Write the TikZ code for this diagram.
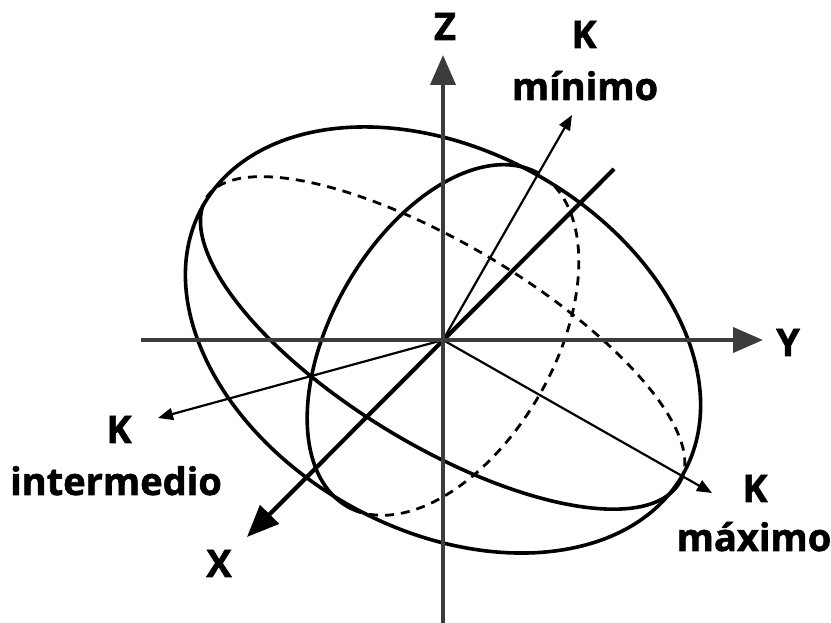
\documentclass[tikz,border=0pt]{standalone}
\usepackage{fontspec}
\setmainfont{Open Sans}[BoldFeatures={FakeBold=1.5}]
\usetikzlibrary{arrows.meta}
\definecolor{axisgray}{HTML}{3C3C3C}
\tikzset{
  contour/.style={line width=3.6pt, black},
  hidden/.style={line width=2.8pt, black, dash pattern=on 9pt off 7pt},
  paxis/.style={line width=4pt, axisgray, -{Triangle[length=30pt,width=25pt]}},
  xaxis/.style={line width=4.2pt, black, -{Triangle[length=32pt,width=26pt]}},
  karrow/.style={line width=2.2pt, black, -{Triangle[length=15pt,width=12pt]}},
  lbl/.style={font=\fontsize{38pt}{46pt}\selectfont\bfseries, inner sep=0pt, anchor=base},
}
\begin{document}
\begin{tikzpicture}[x=1pt,y=1pt]
\useasboundingbox (0,0) rectangle (831,623);
% reference points
\coordinate (O) at (443,283);
\coordinate (Zb) at (443,0);
\coordinate (Zt) at (443,568);
\coordinate (Yl) at (141,283);
\coordinate (Yr) at (763,283);
\coordinate (Xu) at (614,454);
\coordinate (Xt) at (247,86);
\coordinate (Kmin) at (572,508);
\coordinate (Kint) at (158,205);
\coordinate (Kmax) at (712,130);
% outer contour
\draw[contour, rotate around={-29:(443,283)}] (O) ellipse [x radius=275pt, y radius=190pt];
% section through K max and K intermedio
\draw[contour] plot[domain=0:180, samples=90, smooth, variable=\t]
  ({443+240*cos(\t)-35*sin(\t)}, {283-135*cos(\t)-102*sin(\t)});
\draw[hidden] plot[domain=5:175, samples=90, smooth, variable=\t]
  ({443+240*cos(\t)+30*sin(\t)}, {283-135*cos(\t)+92*sin(\t)});
% section through K minimo and K intermedio
\draw[contour] plot[domain=0:188, samples=90, smooth, variable=\t]
  ({443+96*cos(\t)-96.1*sin(\t)}, {283+166.3*cos(\t)+55.5*sin(\t)});
\draw[hidden] plot[domain=192:352, samples=90, smooth, variable=\t]
  ({443+96*cos(\t)-96.1*sin(\t)}, {283+166.3*cos(\t)+55.5*sin(\t)});
% principal directions
\draw[karrow] (O) -- (Kmin);
\draw[karrow] (O) -- (Kint);
\draw[karrow] (O) -- (Kmax);
% axes
\draw[xaxis] (Xu) -- (Xt);
\draw[paxis] (Yl) -- (Yr);
\draw[paxis] (Zb) -- (Zt);
% labels
\node[lbl] (zlab) at (445,583) {Z};
\node[lbl] (ylab) at (788,267) {Y};
\node[lbl] (xlab) at (219,46) {X};
\node[lbl] (kminK) at (584,575) {K};
\node[lbl] (kminW) at (585,523) {mínimo};
\node[lbl] (kintK) at (119,180) {K};
\node[lbl] (kintW) at (116,128) {intermedio};
\node[lbl] (kmaxK) at (755,121) {K};
\node[lbl] (kmaxW) at (754,72) {máximo};
\end{tikzpicture}
\end{document}
